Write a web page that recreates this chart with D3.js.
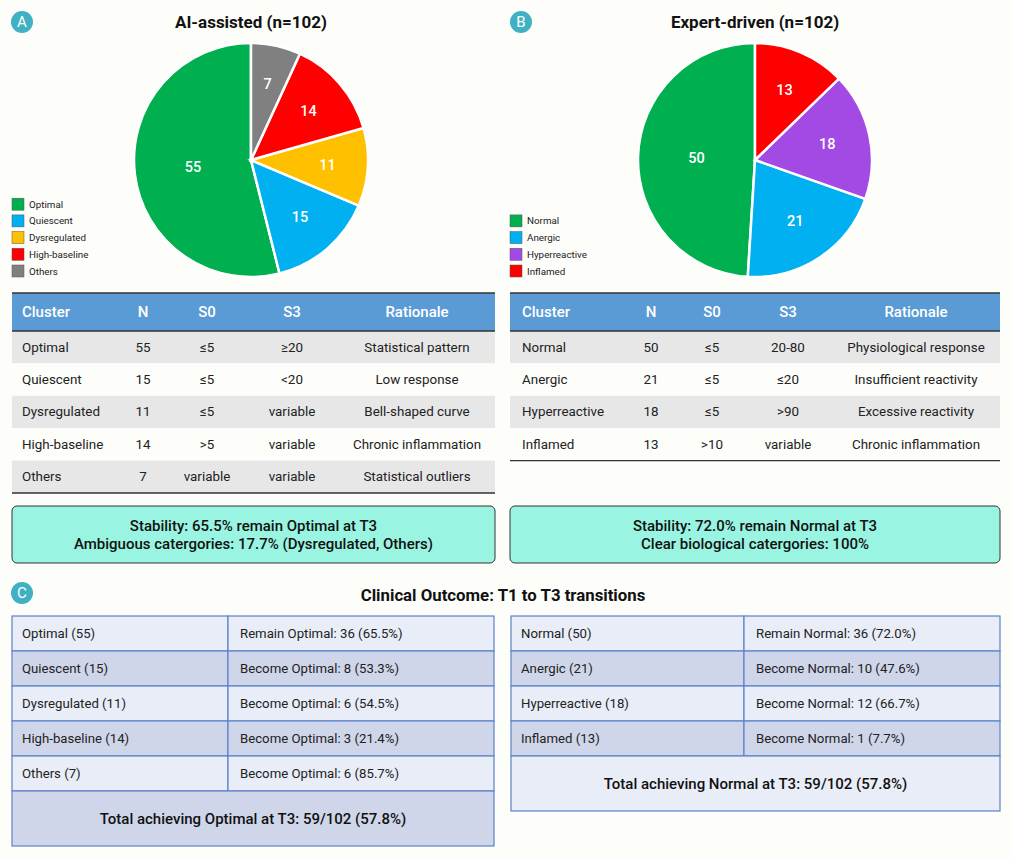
<!DOCTYPE html>
<html>
<head>
<meta charset="utf-8">
<script src="https://cdn.jsdelivr.net/npm/d3@7"></script>
<style>
  body { margin: 0; background: #fdfdfa; }
  svg { display: block; font-family: Roboto, "Noto Sans", sans-serif; }
</style>
</head>
<body>
<svg id="chart" width="1013" height="858"></svg>
<script>
// ---------------------------------------------------------------------------
// Data
// ---------------------------------------------------------------------------
var aiClusters = ["Optimal", "Quiescent", "Dysregulated", "High-baseline", "Others"];
var aiCounts = [55, 15, 11, 14, 7];
var aiS0 = ["\u22645", "\u22645", "\u22645", ">5", "variable"];
var aiS3 = ["\u226520", "<20", "variable", "variable", "variable"];
var aiRationale = ["Statistical pattern", "Low response", "Bell-shaped curve", "Chronic inflammation", "Statistical outliers"];
var aiToOptimal = [36, 8, 6, 3, 6];

var expertClusters = ["Normal", "Anergic", "Hyperreactive", "Inflamed"];
var expertCounts = [50, 21, 18, 13];
var expertS0 = ["\u22645", "\u22645", "\u22645", ">10"];
var expertS3 = ["20-80", "\u226420", ">90", "variable"];
var expertRationale = ["Physiological response", "Insufficient reactivity", "Excessive reactivity", "Chronic inflammation"];
var expertToNormal = [36, 10, 12, 1];

var tableHeaders = ["Cluster", "N", "S0", "S3", "Rationale"];

var aiSummary = ["Stability: 65.5% remain Optimal at T3", "Ambiguous catergories: 17.7% (Dysregulated, Others)"];
var expertSummary = ["Stability: 72.0% remain Normal at T3", "Clear biological catergories: 100%"];

// ---------------------------------------------------------------------------
// Styles / layout
// ---------------------------------------------------------------------------
var aiColors = ["#00b050", "#00b0f0", "#ffc000", "#ff0000", "#808080"];
var expertColors = ["#00b050", "#00b0f0", "#a349e4", "#ff0000"];
var badgeColor = "#3fb1c2";

var svg = d3.select("#chart");

//------------------------------------------------------------------------------
// Badge
//------------------------------------------------------------------------------
function badge(x, y, letter) {
    svg.append("circle").attr("cx", x).attr("cy", y).attr("r", 11).attr("fill", badgeColor);
    svg.append("text").attr("x", x).attr("y", y + 5)
        .attr("text-anchor", "middle").attr("fill", "#fff")
        .attr("font-size", 15).text(letter);
}

//------------------------------------------------------------------------------
// Pie with legend
//------------------------------------------------------------------------------
function drawPie(opts) {
    var r = 117;
    var g = svg.append("g").attr("transform", "translate(" + opts.cx + "," + opts.cy + ")");
    var pie = d3.pie().sort(null).startAngle(0).endAngle(-2 * Math.PI);
    var arc = d3.arc().innerRadius(0).outerRadius(r);
    var slices = pie(opts.values);

    g.selectAll("path").data(slices).enter().append("path")
        .attr("d", arc)
        .attr("fill", function(d, i) { return opts.colors[i]; })
        .attr("stroke", "#fff").attr("stroke-width", 2.5);

    // labels near the area centroid of each sector
    g.selectAll("text.lbl").data(slices).enter().append("text")
        .attr("class", "lbl")
        .attr("transform", function(d) {
            var a = (d.startAngle + d.endAngle) / 2;
            var th = Math.abs(d.endAngle - d.startAngle);
            var dist = Math.max(4 * r * Math.sin(th / 2) / (3 * th), 0.5 * r);
            return "translate(" + (dist * Math.sin(a)) + "," + (-dist * Math.cos(a)) + ")";
        })
        .attr("dy", "0.35em")
        .attr("text-anchor", "middle").attr("fill", "#fff").attr("font-size", 14.5)
        .attr("font-weight", 500)
        .text(function(d) { return d.value; });

    svg.append("text").attr("x", opts.cx).attr("y", 28)
        .attr("text-anchor", "middle").attr("font-size", 17).attr("font-weight", "bold")
        .attr("fill", "#111").text(opts.title);

    var ly = d3.scaleLinear().domain([0, 1]).range([opts.legendBottom - (opts.labels.length - 1) * 16.7, opts.legendBottom - (opts.labels.length - 2) * 16.7]);
    var lg = svg.selectAll(null).data(opts.labels).enter().append("g")
        .attr("transform", function(d, i) { return "translate(" + opts.legendX + "," + ly(i) + ")"; });
    lg.append("rect").attr("x", 0).attr("y", -6).attr("width", 12).attr("height", 12)
        .attr("fill", function(d, i) { return opts.colors[i]; })
        .attr("stroke", "#555").attr("stroke-width", 0.5);
    lg.append("text").attr("x", 17).attr("y", 3.5).attr("font-size", 9.8).attr("fill", "#222")
        .text(function(d) { return d; });
}

//------------------------------------------------------------------------------
// Criteria table
//------------------------------------------------------------------------------
function drawCriteria(opts) {
    var top = 293, headH = 38, rowH = 32.4;
    var rows = opts.clusters.map(function(c, i) {
        return [c, String(opts.counts[i]), opts.s0[i], opts.s3[i], opts.rationale[i]];
    });
    var y = d3.scaleBand().domain(d3.range(rows.length))
        .range([top + headH, top + headH + rowH * rows.length]);
    var g = svg.append("g");

    g.append("rect").attr("x", opts.x).attr("y", top).attr("width", opts.w).attr("height", headH)
        .attr("fill", "#5b9bd5");
    g.selectAll("text.h").data(tableHeaders).enter().append("text")
        .attr("x", function(d, i) { return opts.x + opts.cols[i]; })
        .attr("y", top + headH / 2 + 5)
        .attr("text-anchor", function(d, i) { return i === 0 ? "start" : "middle"; })
        .attr("fill", "#fff").attr("font-size", 15).attr("font-weight", 500)
        .text(function(d) { return d; });

    var rg = g.selectAll("g.row").data(rows).enter().append("g")
        .attr("transform", function(d, i) { return "translate(0," + y(i) + ")"; });
    rg.append("rect").attr("x", opts.x).attr("width", opts.w).attr("height", y.bandwidth())
        .attr("fill", function(d, i) { return i % 2 === 0 ? "#e7e7e7" : "#fdfdfa"; });
    rg.selectAll("text").data(function(d) { return d; }).enter().append("text")
        .attr("x", function(d, i) { return opts.x + opts.cols[i]; })
        .attr("y", y.bandwidth() / 2 + 4.5)
        .attr("text-anchor", function(d, i) { return i === 0 ? "start" : "middle"; })
        .attr("fill", "#222").attr("font-size", 13.4).text(function(d) { return d; });

    var lines = [top, top + headH, top + headH + rowH * rows.length];
    g.selectAll("line").data(lines).enter().append("line")
        .attr("x1", opts.x).attr("x2", opts.x + opts.w)
        .attr("y1", function(d) { return d; }).attr("y2", function(d) { return d; })
        .attr("stroke", "#333").attr("stroke-width", 1.3);
}

//------------------------------------------------------------------------------
// Summary box
//------------------------------------------------------------------------------
function drawSummary(x, w, lines) {
    svg.append("rect").attr("x", x).attr("y", 506).attr("width", w).attr("height", 57)
        .attr("rx", 5).attr("fill", "#99f5e1").attr("stroke", "#333").attr("stroke-width", 1);
    svg.selectAll(null).data(lines).enter().append("text")
        .attr("x", x + w / 2).attr("y", function(d, i) { return 531 + i * 18; })
        .attr("text-anchor", "middle").attr("font-size", 15).attr("font-weight", 500)
        .attr("fill", "#111")
        .text(function(d) { return d; });
}

//------------------------------------------------------------------------------
// Transition table
//------------------------------------------------------------------------------
function drawTransitions(opts) {
    var top = 616, rowH = 35;
    var n = opts.clusters.length;
    var y = d3.scaleBand().domain(d3.range(n)).range([top, top + rowH * n]);
    var light = "#e9edf7", dark = "#cfd6ea", border = "#5b82c9";
    var total = d3.sum(opts.toTarget), all = d3.sum(opts.counts);
    var fmt = d3.format(".1f");
    var g = svg.append("g");

    var rg = g.selectAll("g").data(opts.clusters).enter().append("g")
        .attr("transform", function(d, i) { return "translate(0," + y(i) + ")"; });
    rg.append("rect").attr("x", opts.x).attr("width", opts.split).attr("height", rowH)
        .attr("fill", function(d, i) { return i % 2 ? dark : light; })
        .attr("stroke", border).attr("stroke-width", 1.2);
    rg.append("rect").attr("x", opts.x + opts.split).attr("width", opts.w - opts.split).attr("height", rowH)
        .attr("fill", function(d, i) { return i % 2 ? dark : light; })
        .attr("stroke", border).attr("stroke-width", 1.2);
    rg.append("text").attr("x", opts.x + 10).attr("y", rowH / 2 + 4.5)
        .attr("font-size", 13.2).attr("fill", "#222")
        .text(function(d, i) { return d + " (" + opts.counts[i] + ")"; });
    rg.append("text").attr("x", opts.x + opts.split + 12).attr("y", rowH / 2 + 4.5)
        .attr("font-size", 13.2).attr("fill", "#222")
        .text(function(d, i) {
            var verb = i === 0 ? "Remain " : "Become ";
            return verb + opts.target + ": " + opts.toTarget[i] + " (" + fmt(100 * opts.toTarget[i] / opts.counts[i]) + "%)";
        });

    var ty = top + rowH * n, th = 55;
    g.append("rect").attr("x", opts.x).attr("y", ty).attr("width", opts.w).attr("height", th)
        .attr("fill", n % 2 ? dark : light).attr("stroke", border).attr("stroke-width", 1.2);
    g.append("text").attr("x", opts.x + opts.w / 2).attr("y", ty + th / 2 + 5)
        .attr("text-anchor", "middle").attr("font-size", 15).attr("font-weight", 500)
        .attr("fill", "#111")
        .text("Total achieving " + opts.target + " at T3: " + total + "/" + all + " (" + fmt(100 * total / all) + "%)");
}

// ---------------------------------------------------------------------------
// Build
// ---------------------------------------------------------------------------
badge(22, 22, "A");
badge(521, 22, "B");
badge(22, 593, "C");

drawPie({ cx: 251, cy: 160, values: aiCounts, colors: aiColors, labels: aiClusters,
          title: "AI-assisted (n=102)", legendX: 12, legendBottom: 271 });
drawPie({ cx: 755, cy: 160, values: expertCounts, colors: expertColors, labels: expertClusters,
          title: "Expert-driven (n=102)", legendX: 510, legendBottom: 271 });

drawCriteria({ x: 12, w: 483, cols: [10, 131, 195, 280, 405], clusters: aiClusters, counts: aiCounts,
               s0: aiS0, s3: aiS3, rationale: aiRationale });
drawCriteria({ x: 510, w: 490, cols: [12, 141, 202, 278, 406], clusters: expertClusters, counts: expertCounts,
               s0: expertS0, s3: expertS3, rationale: expertRationale });

drawSummary(12, 483, aiSummary);
drawSummary(510, 490, expertSummary);

svg.append("text").attr("x", 503).attr("y", 601).attr("text-anchor", "middle")
    .attr("font-size", 16.8).attr("font-weight", "bold").attr("fill", "#111")
    .text("Clinical Outcome: T1 to T3 transitions");

drawTransitions({ x: 12, w: 482, split: 216, clusters: aiClusters, counts: aiCounts,
                  toTarget: aiToOptimal, target: "Optimal" });
drawTransitions({ x: 511, w: 489, split: 233, clusters: expertClusters, counts: expertCounts,
                  toTarget: expertToNormal, target: "Normal" });
</script>
</body>
</html>
